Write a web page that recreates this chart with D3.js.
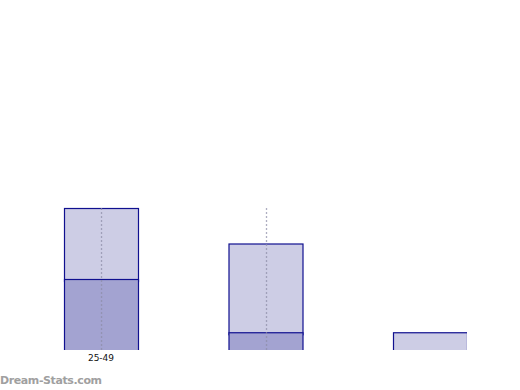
<!DOCTYPE html>
<html>
<head>
<meta charset="utf-8">
<script src="https://cdn.jsdelivr.net/npm/d3@7"></script>
<style>
  body { margin: 0; background: #fff; }
  svg { display: block; }
</style>
</head>
<body>
<div id="chart"></div>
<script>
var categories = ["25-49", "50-74", "75-99"];
var tickLabels = ["25-49", "", ""];
var darkValues = [20, 5, 0];
var lightValues = [20, 25, 5];

var svg = d3.select("#chart").append("svg")
    .attr("width", 520)
    .attr("height", 390);

var plot = { left: 0, right: 467, top: 0, bottom: 350 };

var x = d3.scalePoint()
    .domain(categories)
    .range([101, 430]);

var y = d3.scaleLinear()
    .domain([0, 40])
    .range([plot.bottom, 208]);

var barWidth = 74;

svg.append("defs").append("clipPath")
    .attr("id", "plot-clip")
    .append("rect")
    .attr("x", plot.left)
    .attr("y", plot.top)
    .attr("width", plot.right - plot.left)
    .attr("height", plot.bottom - plot.top);

var g = svg.append("g").attr("clip-path", "url(#plot-clip)");

// stacked data: dark segment at the bottom, light on top
var stacked = categories.map(function(c, i) {
    return { cat: c, dark: darkValues[i], light: lightValues[i] };
});

g.selectAll("rect.light")
    .data(stacked)
    .enter().append("rect")
    .attr("class", "light")
    .attr("x", function(d) { return x(d.cat) - barWidth / 2 + 0.5; })
    .attr("y", function(d) { return y(d.dark + d.light) + 0.5; })
    .attr("width", barWidth)
    .attr("height", function(d) { return y(d.dark) - y(d.dark + d.light) + 2; })
    .attr("fill", "#cdcde5")
    .attr("stroke", "#10108f")
    .attr("stroke-width", 1.2);

g.selectAll("rect.dark")
    .data(stacked.filter(function(d) { return d.dark > 0; }))
    .enter().append("rect")
    .attr("class", "dark")
    .attr("x", function(d) { return x(d.cat) - barWidth / 2 + 0.5; })
    .attr("y", function(d) { return y(d.dark) + 0.5; })
    .attr("width", barWidth)
    .attr("height", function(d) { return y(0) - y(d.dark) + 2; })
    .attr("fill", "#a3a3d1")
    .attr("stroke", "#10108f")
    .attr("stroke-width", 1.2);

// dotted grid lines at category centres
svg.append("g")
    .selectAll("line")
    .data(categories.slice(0, 2))
    .enter().append("line")
    .attr("x1", function(d) { return Math.round(x(d)) + 0.5; })
    .attr("x2", function(d) { return Math.round(x(d)) + 0.5; })
    .attr("y1", y(40))
    .attr("y2", y(0))
    .attr("stroke", "#8c8ca6")
    .attr("stroke-opacity", 0.7)
    .attr("stroke-width", 1.3)
    .attr("stroke-dasharray", "2,2");

svg.append("g")
    .attr("font-family", "DejaVu Sans, sans-serif")
    .attr("font-size", 9)
    .attr("text-anchor", "middle")
    .selectAll("text")
    .data(categories)
    .enter().append("text")
    .attr("x", function(d) { return x(d); })
    .attr("y", 361)
    .attr("fill", "#111")
    .text(function(d, i) { return tickLabels[i]; });

svg.append("text")
    .attr("x", 0)
    .attr("y", 384)
    .attr("font-family", "DejaVu Sans, sans-serif")
    .attr("font-size", 11)
    .attr("font-weight", "bold")
    .attr("textLength", 102)
    .attr("fill", "#a0a0a0")
    .text("Dream-Stats.com");
</script>
</body>
</html>
